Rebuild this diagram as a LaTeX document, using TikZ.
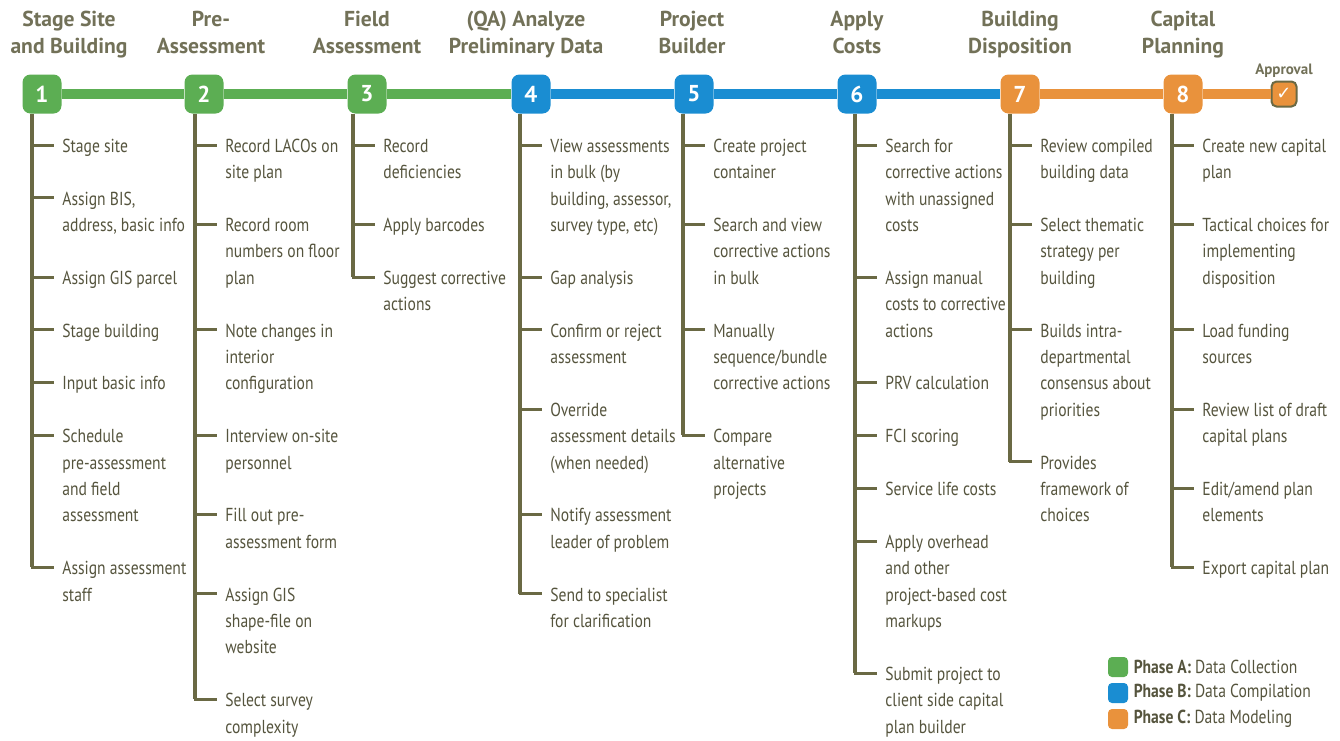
\documentclass[tikz,border=0pt]{standalone}
\usepackage{fontspec}
\setmainfont{PT Sans}[FakeStretch=0.83]
\newfontfamily\cabecera{PT Sans}
\newfontfamily\simbolos{DejaVu Sans}
\usetikzlibrary{positioning}
\definecolor{verdeA}{HTML}{5CAE53}
\definecolor{azulB}{HTML}{1A8DD2}
\definecolor{naranjaC}{HTML}{E9923C}
\definecolor{olivaL}{HTML}{6A6944}
\definecolor{grisT}{HTML}{727158}
\definecolor{textoI}{HTML}{55543D}
\tikzset{
  pasoCaja/.style={rounded corners=4pt, minimum size=19.5pt, inner sep=0pt,
    text=white, font=\cabecera\bfseries\fontsize{11.5}{12}\selectfont},
  aprobCaja/.style={rounded corners=2.5pt, minimum size=12.5pt, inner sep=0pt,
    fill=naranjaC, draw=olivaL, line width=1pt, text=white,
    font=\simbolos\bfseries\fontsize{9}{9}\selectfont},
  eje/.style={line width=5pt},
  tronco/.style={olivaL, line width=2pt},
  rama/.style={olivaL, line width=1.5pt, line cap=rect, shorten >=4.75pt},
  tareaTxt/.style={anchor=north west, inner sep=0pt, align=left, text=textoI,
    font=\fontsize{9.4}{13.2}\selectfont},
  titulo/.style={anchor=north, inner sep=0pt, align=center, text=grisT,
    font=\cabecera\bfseries\fontsize{10.8}{13.5}\selectfont},
  leyCaja/.style={rounded corners=2pt, minimum size=10pt, inner sep=0pt},
  leyTxt/.style={inner sep=0pt, text=textoI, font=\fontsize{9.4}{12}\selectfont},
}
\newcommand{\tarea}[4]{% nombre, x del tronco, fila, texto
  \coordinate (#1-t) at (#2,{145+26.4*#3});
  \node[tareaTxt] (#1) at ({#2+30},{133.5+26.4*#3}) {\strut #4};
  \draw[rama] (#1-t) -- (#1-t -| #1.west);
}

\begin{document}
\begin{tikzpicture}[x=0.5pt, y=-0.5pt]
  \useasboundingbox (0,0) rectangle (1340,740);
  % titulos de las etapas
  \node[titulo] (h1) at (69,7)   {\strut Stage Site\\and Building};
  \node[titulo] (h2) at (211,7)  {\strut Pre-\\Assessment};
  \node[titulo] (h3) at (367,7)  {\strut Field\\Assessment};
  \node[titulo] (h4) at (526,7)  {\strut (QA) Analyze\\Preliminary Data};
  \node[titulo] (h5) at (692,7)  {\strut Project\\Builder};
  \node[titulo] (h6) at (857,7)  {\strut Apply\\Costs};
  \node[titulo] (h7) at (1020,7) {\strut Building\\Disposition};
  \node[titulo] (h8) at (1183,7) {\strut Capital\\Planning};
  % pasos numerados
  \node[pasoCaja, fill=verdeA]   (p1) at (42,94)   {1};
  \node[pasoCaja, fill=verdeA]   (p2) at (204,94)  {2};
  \node[pasoCaja, fill=verdeA]   (p3) at (367,94)  {3};
  \node[pasoCaja, fill=azulB]    (p4) at (531,94)  {4};
  \node[pasoCaja, fill=azulB]    (p5) at (694,94)  {5};
  \node[pasoCaja, fill=azulB]    (p6) at (857,94)  {6};
  \node[pasoCaja, fill=naranjaC] (p7) at (1020,94) {7};
  \node[pasoCaja, fill=naranjaC] (p8) at (1183,94) {8};
  \node[aprobCaja] (ok) at (1284,94) {✓};
  \node[above=1.5pt of ok, inner sep=0pt, text=grisT,
        font=\cabecera\bfseries\fontsize{7.5}{8}\selectfont] (aprob) {Approval};
  % eje
  \draw[eje, verdeA]   (p1) -- (p2);
  \draw[eje, verdeA]   (p2) -- (p3);
  \draw[eje, verdeA]   (p3) -- (p4);
  \draw[eje, azulB]    (p4) -- (p5);
  \draw[eje, azulB]    (p5) -- (p6);
  \draw[eje, azulB]    (p6) -- (p7);
  \draw[eje, naranjaC] (p7) -- (p8);
  \draw[eje, naranjaC] (p8) -- (ok);
  % 1
  \tarea{c1a}{32}{0}{Stage site}
  \tarea{c1b}{32}{2}{Assign BIS,\\address, basic info}
  \tarea{c1c}{32}{5}{Assign GIS parcel}
  \tarea{c1d}{32}{7}{Stage building}
  \tarea{c1e}{32}{9}{Input basic info}
  \tarea{c1f}{32}{11}{Schedule\\pre-assessment\\and field\\assessment}
  \tarea{c1g}{32}{16}{Assign assessment\\staff}
  \draw[tronco] (p1.south -| c1g-t) -- (c1g-t);
  % 2
  \tarea{c2a}{195}{0}{Record LACOs on\\site plan}
  \tarea{c2b}{195}{3}{Record room\\numbers on floor\\plan}
  \tarea{c2c}{195}{7}{Note changes in\\interior\\configuration}
  \tarea{c2d}{195}{11}{Interview on-site\\personnel}
  \tarea{c2e}{195}{14}{Fill out pre-\\assessment form}
  \tarea{c2f}{195}{17}{Assign GIS\\shape-file on\\website}
  \tarea{c2g}{195}{21}{Select survey\\complexity}
  \draw[tronco] (p2.south -| c2g-t) -- (c2g-t);
  % 3
  \tarea{c3a}{353}{0}{Record\\deficiencies}
  \tarea{c3b}{353}{3}{Apply barcodes}
  \tarea{c3c}{353}{5}{Suggest corrective\\actions}
  \draw[tronco] (p3.south -| c3c-t) -- (c3c-t);
  % 4
  \tarea{c4a}{520}{0}{View assessments\\in bulk (by\\building, assessor,\\survey type, etc)}
  \tarea{c4b}{520}{5}{Gap analysis}
  \tarea{c4c}{520}{7}{Confirm or reject\\assessment}
  \tarea{c4d}{520}{10}{Override\\assessment details\\(when needed)}
  \tarea{c4e}{520}{14}{Notify assessment\\leader of problem}
  \tarea{c4f}{520}{17}{Send to specialist\\for clarification}
  \draw[tronco] (p4.south -| c4f-t) -- (c4f-t);
  % 5
  \tarea{c5a}{683}{0}{Create project\\container}
  \tarea{c5b}{683}{3}{Search and view\\corrective actions\\in bulk}
  \tarea{c5c}{683}{7}{Manually\\sequence/bundle\\corrective actions}
  \tarea{c5d}{683}{11}{Compare\\alternative\\projects}
  \draw[tronco] (p5.south -| c5d-t) -- (c5d-t);
  % 6
  \tarea{c6a}{855}{0}{Search for\\corrective actions\\with unassigned\\costs}
  \tarea{c6b}{855}{5}{Assign manual\\costs to corrective\\actions}
  \tarea{c6c}{855}{9}{PRV calculation}
  \tarea{c6d}{855}{11}{FCI scoring}
  \tarea{c6e}{855}{13}{Service life costs}
  \tarea{c6f}{855}{15}{Apply overhead\\and other\\project-based cost\\markups}
  \tarea{c6g}{855}{20}{Submit project to\\client side capital\\plan builder}
  \draw[tronco] (p6.south -| c6g-t) -- (c6g-t);
  % 7
  \tarea{c7a}{1010}{0}{Review compiled\\building data}
  \tarea{c7b}{1010}{3}{Select thematic\\strategy per\\building}
  \tarea{c7c}{1010}{7}{Builds intra-\\departmental\\consensus about\\priorities}
  \tarea{c7d}{1010}{12}{Provides\\framework of\\choices}
  \draw[tronco] (p7.south -| c7d-t) -- (c7d-t);
  % 8
  \tarea{c8a}{1172}{0}{Create new capital\\plan}
  \tarea{c8b}{1172}{3}{Tactical choices for\\implementing\\disposition}
  \tarea{c8c}{1172}{7}{Load funding\\sources}
  \tarea{c8d}{1172}{10}{Review list of draft\\capital plans}
  \tarea{c8e}{1172}{13}{Edit/amend plan\\elements}
  \tarea{c8f}{1172}{16}{Export capital plan}
  \draw[tronco] (p8.south -| c8f-t) -- (c8f-t);
  % leyenda
  \node[leyCaja, fill=verdeA]   (la) at (1118,667) {};
  \node[leyCaja, fill=azulB]    (lb) at (1118,693) {};
  \node[leyCaja, fill=naranjaC] (lc) at (1118,719) {};
  \node[leyTxt, right=2.5pt of la] (lta) {\textbf{Phase A:} Data Collection};
  \node[leyTxt, right=2.5pt of lb] (ltb) {\textbf{Phase B:} Data Compilation};
  \node[leyTxt, right=2.5pt of lc] (ltc) {\textbf{Phase C:} Data Modeling};
\end{tikzpicture}
\end{document}
